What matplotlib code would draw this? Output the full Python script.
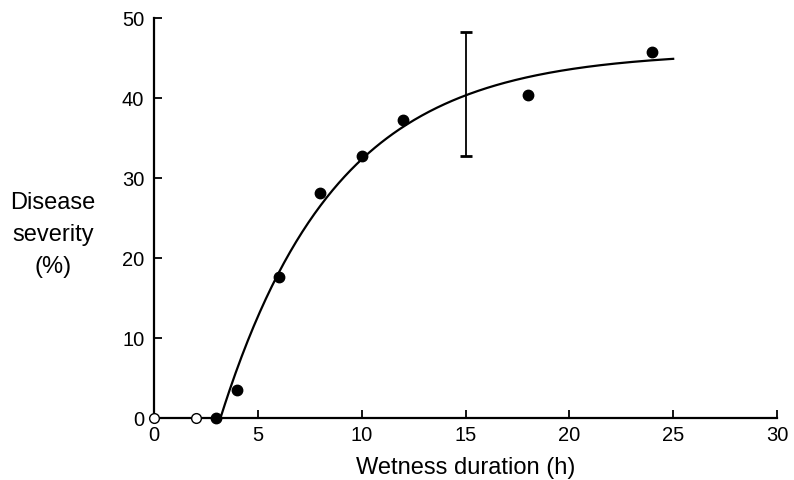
import numpy as np
import matplotlib
matplotlib.use("Agg")
import matplotlib.pyplot as plt

plt.rcParams['font.family'] = ['Liberation Sans', 'DejaVu Sans']

# Observed data
open_hours = [0, 2]
open_severity = [0, 0]
filled_hours = [3, 4, 6, 8, 10, 12, 18, 24]
filled_severity = [0, 3.5, 17.6, 28.1, 32.8, 37.2, 40.4, 45.8]

# Representative error bar
err_hour = [15]
err_low = [32.7]
err_high = [48.2]

# Fitted monomolecular curve parameters
curve_asymptote = 45.8
curve_rate = 0.18
curve_onset = 3.2
curve_end = 25

x_ticks = [0, 5, 10, 15, 20, 25, 30]
y_ticks = [0, 10, 20, 30, 40, 50]

fig = plt.figure(figsize=(7.94, 4.81), dpi=100)
ax = fig.add_axes([0.194, 0.129, 0.9786 - 0.194, 0.9605 - 0.129])

xc = np.linspace(curve_onset, curve_end, 300)
yc = curve_asymptote * (1 - np.exp(-curve_rate * (xc - curve_onset)))
ax.plot(xc, yc, color='black', lw=1.6, zorder=2)

mid = [(l + h) / 2 for l, h in zip(err_low, err_high)]
half = [(h - l) / 2 for l, h in zip(err_low, err_high)]
ax.errorbar(err_hour, mid, yerr=half, fmt='none', ecolor='black',
            elinewidth=1.3, capsize=4, capthick=2, zorder=2)

ax.plot(filled_hours, filled_severity, 'o', color='black', ms=7.5,
        clip_on=False, zorder=4)
ax.plot(open_hours, open_severity, 'o', mfc='white', mec='black', mew=1.0,
        ms=7, clip_on=False, zorder=4)

ax.set_xlim(0, 30)
ax.set_ylim(0, 50)
ax.set_xticks(x_ticks)
ax.set_yticks(y_ticks)
ax.tick_params(direction='in', length=6, width=1.3, labelsize=14.5)
ax.tick_params(axis='y', pad=7)
ax.tick_params(axis='x', pad=5)
for s in ['top', 'right']:
    ax.spines[s].set_visible(False)
for s in ['left', 'bottom']:
    ax.spines[s].set_linewidth(1.6)

ax.set_xlabel('Wetness duration (h)', fontsize=17, labelpad=9)
fig.text(53 / 794, 1 - 235 / 481, 'Disease\nseverity\n(%)', fontsize=17,
         ha='center', va='center', linespacing=1.6)

fig.savefig('out.png', dpi=100)
